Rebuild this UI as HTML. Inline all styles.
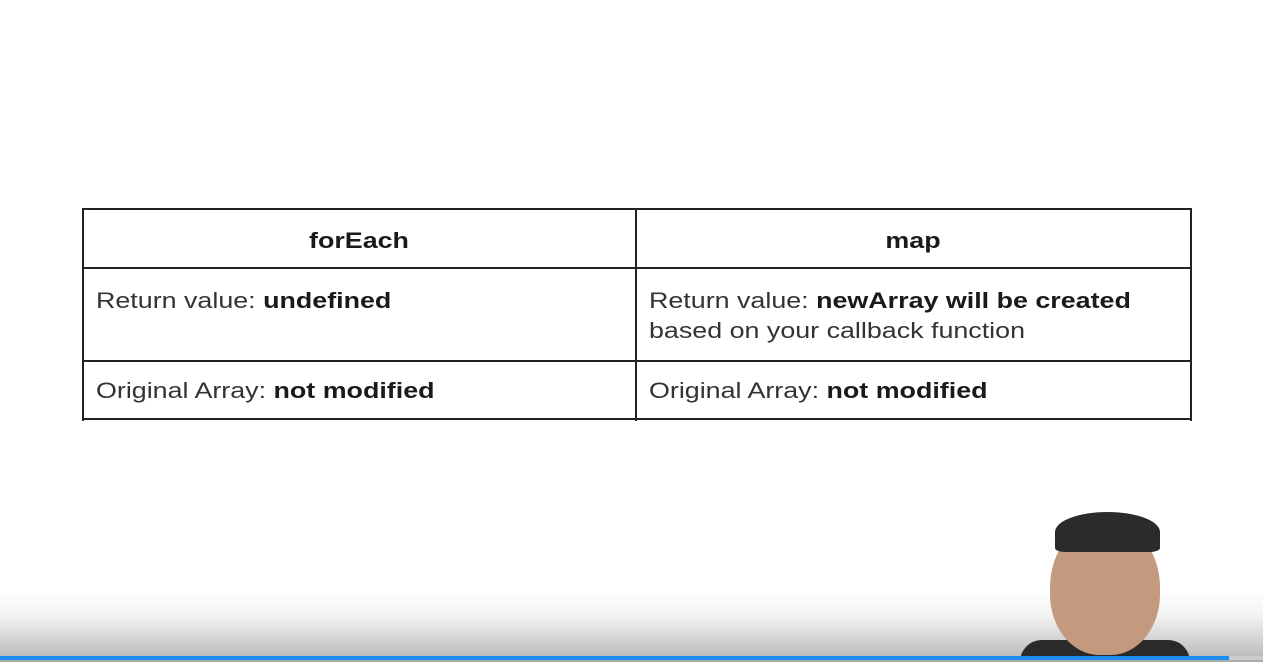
<!DOCTYPE html>
<html><head><style>
body{margin:0;width:1263px;height:662px;overflow:hidden;background:#fff;position:relative;font-family:"Liberation Sans",sans-serif;}
.h{position:absolute;background:#222;}
.t{position:absolute;font-size:22px;color:#333;transform:scaleX(1.22);transform-origin:left top;white-space:nowrap;}
.c{position:absolute;font-size:22px;color:#1a1a1a;transform:scaleX(1.22);transform-origin:center top;text-align:center;}
b{color:#1a1a1a;}
</style></head><body>
<div style="position:absolute;left:0;top:590px;width:1263px;height:66px;background:linear-gradient(#fff,#f2f2f2 40%,#bdbdbd)"></div>
<div class="h" style="left:82px;top:208px;width:1110px;height:2px"></div>
<div class="h" style="left:82px;top:267px;width:1110px;height:2px"></div>
<div class="h" style="left:82px;top:360px;width:1110px;height:2px"></div>
<div class="h" style="left:82px;top:418px;width:1110px;height:2px"></div>
<div class="h" style="left:82px;top:208px;width:2px;height:213px"></div>
<div class="h" style="left:635px;top:208px;width:2px;height:213px"></div>
<div class="h" style="left:1190px;top:208px;width:2px;height:213px"></div>
<div class="c" style="left:82px;width:554px;top:228px"><b>forEach</b></div>
<div class="c" style="left:636px;width:554px;top:228px"><b>map</b></div>
<div class="t" style="left:96px;top:288px">Return value: <b>undefined</b></div>
<div class="t" style="left:649px;top:286px;line-height:30px">Return value: <b>newArray will be created</b><br>based on your callback function</div>
<div class="t" style="left:96px;top:378px">Original Array: <b>not modified</b></div>
<div class="t" style="left:649px;top:378px">Original Array: <b>not modified</b></div>
<div style="position:absolute;left:1020px;top:640px;width:170px;height:22px;background:#2a2a2a;border-radius:40px 40px 0 0"></div>
<div style="position:absolute;left:1050px;top:520px;width:110px;height:135px;background:#c49a7e;border-radius:50% 50% 45% 45%"></div>
<div style="position:absolute;left:1055px;top:512px;width:105px;height:40px;background:#2b2b2b;border-radius:50% 50% 10% 10%"></div>
<div style="position:absolute;left:0;top:656px;width:1229px;height:4px;background:#1a8ef0"></div>
<div style="position:absolute;left:1229px;top:656px;width:34px;height:4px;background:#ccc"></div>
<div style="position:absolute;left:0;top:660px;width:1263px;height:2px;background:#aaa"></div>
</body></html>
